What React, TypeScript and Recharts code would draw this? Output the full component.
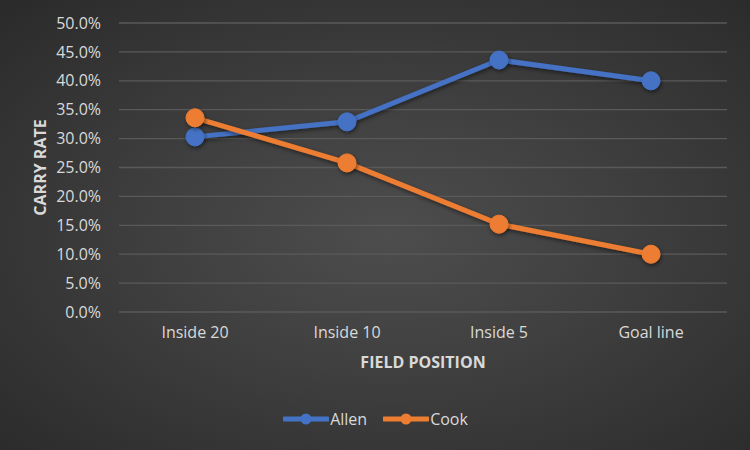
import React from 'react'
import { CartesianGrid, Label, Legend, Line, LineChart, XAxis, YAxis } from 'recharts'

const positions = ['Inside 20', 'Inside 10', 'Inside 5', 'Goal line']
const allenRates = [0.303, 0.329, 0.436, 0.4]
const cookRates = [0.336, 0.258, 0.152, 0.1]
const yTicks = [0, 0.05, 0.1, 0.15, 0.2, 0.25, 0.3, 0.35, 0.4, 0.45, 0.5]

const seriesNames = ['Allen', 'Cook']
const seriesColors = ['#4472C4', '#ED7D31']

const data = positions.map((position, i) => ({
  position,
  Allen: allenRates[i],
  Cook: cookRates[i]
}))

const FONT = '"Open Sans", "Noto Sans", sans-serif'
const TEXT = '#d9d9d9'

function LegendContent() {
  return (
    <div
      style={{
        display: 'flex',
        justifyContent: 'center',
        gap: 16,
        paddingLeft: 24,
        fontFamily: FONT,
        fontSize: 16,
        color: TEXT
      }}
    >
      {seriesNames.map((name, i) => (
        <div key={name} style={{ display: 'flex', alignItems: 'center' }}>
          <svg width={46} height={14}>
            <line x1={1} y1={7} x2={45} y2={7} stroke={seriesColors[i]} strokeWidth={5} strokeLinecap="round" />
            <circle cx={23} cy={7} r={5.5} fill={seriesColors[i]} />
          </svg>
          <span style={{ marginLeft: 1 }}>{name}</span>
        </div>
      ))}
    </div>
  )
}

function YTitle(props: any) {
  const vb = props.viewBox || {}
  const cx = 40
  const cy = (vb.y ?? 0) + (vb.height ?? 0) / 2
  return (
    <text
      x={cx}
      y={cy}
      transform={`rotate(-90, ${cx}, ${cy})`}
      textAnchor="middle"
      dominantBaseline="central"
      fill={TEXT}
      fontFamily={FONT}
      fontSize={16}
      fontWeight={700}
    >
      CARRY RATE
    </text>
  )
}

export default function App() {
  return (
    <div
      style={{
        position: 'absolute',
        left: 0,
        top: 0,
        width: 750,
        height: 450,
        background: 'radial-gradient(ellipse at 52% 52%, #4d4d4d 0%, #404040 40%, #2a2a2a 100%)'
      }}
    >
      <LineChart width={750} height={450} data={data} margin={{ top: 23, right: 23, left: 0, bottom: 0 }}>
        <defs>
          <filter id="shadow" x="-20%" y="-20%" width="140%" height="160%">
            <feDropShadow dx={1} dy={2} stdDeviation={2} floodColor="#000" floodOpacity={0.5} />
          </filter>
        </defs>
        <CartesianGrid vertical={false} stroke="#5a5a5a" strokeWidth={1.3} />
        <XAxis
          dataKey="position"
          height={92}
          padding={{ left: 76, right: 76 }}
          axisLine={false}
          tickLine={false}
          tickMargin={9}
          fontSize={16}
          fontFamily={FONT}
          tick={{ fill: TEXT, fontSize: 16, fontFamily: FONT }}
        >
          <Label
            value="FIELD POSITION"
            position="insideTop"
            offset={45}
            fill={TEXT}
            fontSize={16}
            fontWeight={700}
            fontFamily={FONT}
          />
        </XAxis>
        <YAxis
          width={119}
          domain={[0, 0.5]}
          ticks={yTicks}
          axisLine={false}
          tickLine={false}
          tickMargin={12}
          fontSize={16}
          fontFamily={FONT}
          tickFormatter={(v: number) => `${(v * 100).toFixed(1)}%`}
          tick={{ fill: TEXT, fontSize: 16, fontFamily: FONT }}
        >
          <Label content={<YTitle />} />
        </YAxis>
        <Legend verticalAlign="bottom" height={46} content={<LegendContent />} wrapperStyle={{ top: 408 }} />
        {seriesNames.map((name, i) => (
          <Line
            key={name}
            dataKey={name}
            stroke={seriesColors[i]}
            strokeWidth={5}
            filter="url(#shadow)"
            dot={{ r: 9, fill: seriesColors[i], stroke: seriesColors[i], strokeWidth: 1 }}
            activeDot={false}
            isAnimationActive={false}
          />
        ))}
      </LineChart>
    </div>
  )
}
